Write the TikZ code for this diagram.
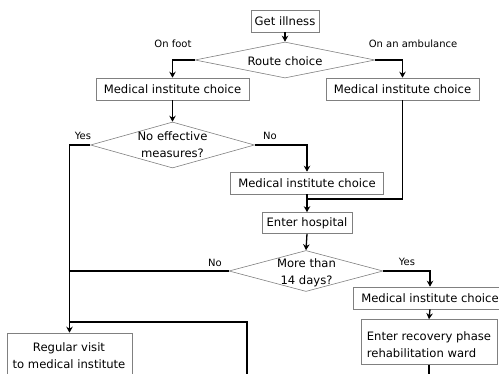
\documentclass[tikz,border=0pt]{standalone}
\usepackage{fontspec}
\setmainfont{DejaVu Sans}
\usetikzlibrary{shapes.geometric,arrows.meta}
\begin{document}
\begin{tikzpicture}[x=1pt,y=-1pt,
  box/.style={draw=gray, line width=0.6pt, fill=white, inner sep=0pt, font=\fontsize{11.6}{17}\selectfont},
  dia/.style={draw=gray, line width=0.6pt, shape=diamond, inner sep=0pt},
  txt/.style={inner sep=0pt, align=center, font=\fontsize{11.6}{17}\selectfont},
  lab/.style={inner sep=0pt, font=\fontsize{10}{12}\selectfont},
  conn/.style={line width=1.3pt, black},
  arr/.style={conn, -{Stealth[length=6pt,width=6.5pt]}}]
\useasboundingbox (0,0) rectangle (499,374);
\clip (0,0) rectangle (499,374);
% nodes
\node[box, minimum width=68, minimum height=22] (ill) at (285,21) {Get illness};
\node[dia, minimum width=180, minimum height=36] (route) at (285,60) {};
\node[txt] (routet) at (285,61) {Route choice};
\node[box, minimum width=153, minimum height=22] (mic1) at (172.5,89) {Medical institute choice};
\node[box, minimum width=153, minimum height=22] (mic2) at (402.5,89) {Medical institute choice};
\node[dia, minimum width=164, minimum height=46] (meas) at (172.5,145) {};
\node[txt] (meast) at (172.5,145) {No effective\\measures?};
\node[box, minimum width=153, minimum height=22] (mic3) at (307,183) {Medical institute choice};
\node[box, minimum width=90, minimum height=21] (hosp) at (307,223) {Enter hospital};
\node[dia, minimum width=154, minimum height=41] (days) at (306,271) {};
\node[txt] (dayst) at (306.5,273) {More than\\14 days?};
\node[box, minimum width=153, minimum height=22] (mic4) at (430,298) {Medical institute choice};
\node[box, minimum width=136, minimum height=45] (rec) at (429,342) {};
\node[txt, align=left] (rect) at (429,345) {Enter recovery phase\\rehabilitation ward};
\node[box, minimum width=125, minimum height=52] (regv) at (69.5,359) {};
\node[txt] (regvt) at (69,356) {Regular visit\\to medical institute};
% labels
\node[lab] (lfoot) at (173,44) {On foot};
\node[lab] (lamb) at (413,44) {On an ambulance};
\node[lab] (lyes1) at (83,136) {Yes};
\node[lab] (lno1) at (270,136) {No};
\node[lab] (lno2) at (215,263) {No};
\node[lab] (lyes2) at (407,262) {Yes};
% helper coordinates
\coordinate (j1) at (307,199);
\coordinate (b1) at (430,385);
\coordinate (b2) at (247,385);
\coordinate (j3) at (69.5,322);
% connectors
\draw[arr] (ill.south) -- (route.north);
\draw[arr] (route.west) -| (mic1.north);
\draw[arr] (route.east) -| (mic2.north);
\draw[arr] (mic1.south) -- (meas.north);
\draw[arr] (meas.west) -| (regv.north);
\draw[arr] (meas.east) -| (mic3.north);
\draw[conn] (mic2.south) |- (j1);
\draw[arr] (mic3.south) -- (hosp.north);
\draw[arr] (hosp.south) -- (days.north);
\draw[conn] (days.west) -- (days.west -| regv.north);
\draw[arr] (days.east) -| (mic4.north);
\draw[arr] (mic4.south) -- (rec.north);
\draw[conn] (rec.south) -- (rec.south |- b1);
\draw[conn] (b2) |- (j3);
\end{tikzpicture}
\end{document}
